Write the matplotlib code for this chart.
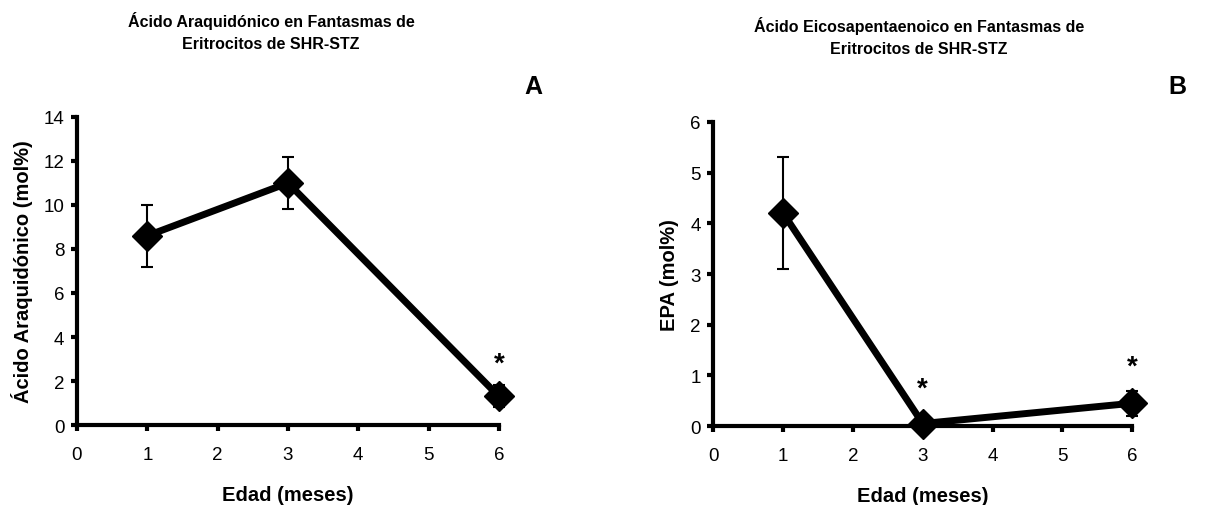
import matplotlib
matplotlib.use("Agg")
import matplotlib.pyplot as plt

plt.rcParams["font.family"] = ["Liberation Sans", "DejaVu Sans"]

# Data
edad = [1, 3, 6]
aa_mean = [8.6, 11.0, 1.3]
aa_err = [1.4, 1.2, 0.5]
aa_sig = [6]
aa_sig_y = [2.8]

epa_mean = [4.2, 0.05, 0.45]
epa_err = [1.1, 0.0, 0.25]
epa_sig = [3, 6]
epa_sig_y = [0.73, 1.18]

xticks = [0, 1, 2, 3, 4, 5, 6]

fig = plt.figure(figsize=(12.32, 5.06), dpi=100)
ax1 = fig.add_axes([0.0625, 0.158, 0.3425, 0.609])
ax2 = fig.add_axes([0.579, 0.156, 0.340, 0.601])


def style_axis(ax, ymax, ylabel):
    for s in ["top", "right"]:
        ax.spines[s].set_visible(False)
    for s in ["left", "bottom"]:
        ax.spines[s].set_linewidth(3)
    ax.set_xlim(0, 6)
    ax.set_ylim(0, ymax)
    ax.set_xticks(xticks)
    ax.set_yticks(range(0, ymax + 1, 2 if ymax > 6 else 1))
    ax.tick_params(axis="both", direction="out", length=4, width=3, labelsize=13.5)
    ax.tick_params(axis="x", pad=11)
    ax.tick_params(axis="y", pad=5)
    ax.set_xlabel("Edad (meses)", fontsize=14.5, fontweight="bold", labelpad=16)
    ax.set_ylabel(ylabel, fontsize=14.5, fontweight="bold", labelpad=8)
    for lab in ax.get_xticklabels() + ax.get_yticklabels():
        lab.set_clip_on(False)


def draw(ax, mean, err, sig, sig_y):
    ax.errorbar(edad, mean, yerr=err, color="black", linewidth=5, marker="D",
                markersize=15, ecolor="black", elinewidth=1.5, capsize=4,
                capthick=1.5, clip_on=False, zorder=3)
    for x, y in zip(sig, sig_y):
        ax.text(x, y, "*", ha="center", va="center", fontsize=20,
                fontweight="bold", clip_on=False)


style_axis(ax1, 14, "Ácido Araquidónico (mol%)")
draw(ax1, aa_mean, aa_err, aa_sig, aa_sig_y)
style_axis(ax2, 6, "EPA (mol%)")
draw(ax2, epa_mean, epa_err, epa_sig, epa_sig_y)

fig.text(0.22, 0.937, "Ácido Araquidónico en Fantasmas de\nEritrocitos de SHR-STZ",
         ha="center", va="center", fontsize=11.5, fontweight="bold", linespacing=1.6)
fig.text(0.746, 0.927, "Ácido Eicosapentaenoico en Fantasmas de\nEritrocitos de SHR-STZ",
         ha="center", va="center", fontsize=11.5, fontweight="bold", linespacing=1.6)
fig.text(0.433, 0.828, "A", ha="center", va="center", fontsize=18, fontweight="bold")
fig.text(0.956, 0.828, "B", ha="center", va="center", fontsize=18, fontweight="bold")

fig.savefig("out.png", dpi=100, facecolor="white")
